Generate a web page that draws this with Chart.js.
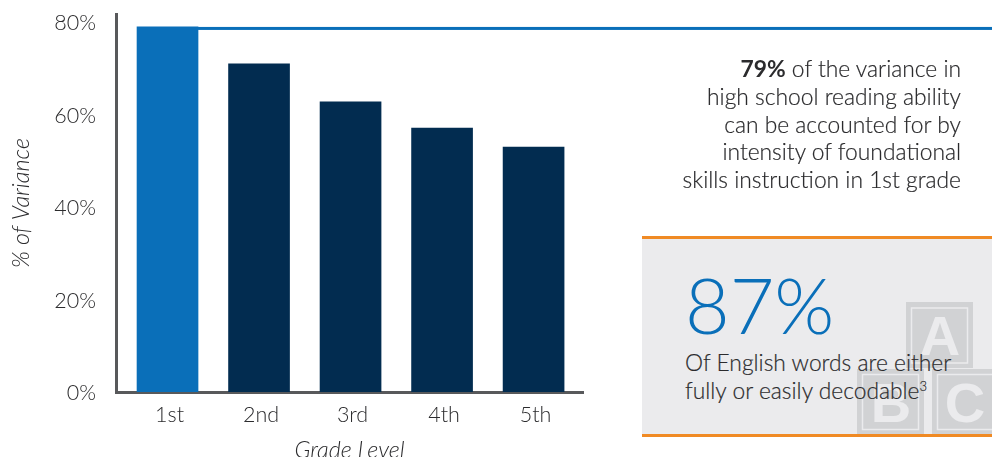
<!DOCTYPE html>
<html>
<head>
<meta charset="utf-8">
<script src="https://cdn.jsdelivr.net/npm/chart.js@4"></script>
<style>
  html, body { margin: 0; padding: 0; background: #fff; width: 992px; height: 457px; overflow: hidden; }
  body { position: relative; font-family: Lato, sans-serif; color: #2b2b2d; }
  #wrap { position: absolute; left: 0; top: 0; width: 992px; height: 457px; }
  #note { position: absolute; right: 31px; top: 55px; text-align: right; font-size: 22.8px; line-height: 27.8px; font-weight: 300; white-space: nowrap; -webkit-text-stroke: 0.2px #2b2b2d; }
  #note b { font-weight: 700; -webkit-text-stroke: 0; }
  #panel { position: absolute; left: 642px; top: 236px; width: 350px; height: 201px; box-sizing: border-box; background: #ebebed;
           border-top: 3px solid #f08a24; border-bottom: 3px solid #f08a24; overflow: hidden; }
  #blocks { position: absolute; left: 0; top: 0; }
  #big { position: absolute; left: 43px; top: 17px; font-size: 77px; line-height: 96px; font-weight: 300; color: #0a6fb9; }
  #sub { position: absolute; left: 43px; top: 110px; font-size: 22.8px; line-height: 27.5px; font-weight: 300; white-space: nowrap; -webkit-text-stroke: 0.2px #2b2b2d; }
  #sub sup { font-size: 13px; line-height: 0; vertical-align: 8px; }
</style>
</head>
<body>
<div id="wrap"><canvas id="chart" width="992" height="457"></canvas></div>
<div id="note"><b>79%</b> of the variance in<br>high school reading ability<br>can be accounted for by<br>intensity of foundational<br>skills instruction in 1st grade</div>
<div id="panel">
  <svg id="blocks" width="350" height="195" font-family="Liberation Sans, Arial, sans-serif" font-weight="700" font-size="56" text-anchor="middle">
    <g>
      <rect x="264" y="63" width="67" height="66" fill="#d1d2d4"/>
      <rect x="269.5" y="69" width="56" height="55" fill="none" stroke="#ebebed" stroke-width="1.5"/>
      <text x="298" y="116" fill="#ebebed">A</text>
      <rect x="215" y="130" width="67" height="65" fill="#d1d2d4"/>
      <rect x="220.5" y="135.5" width="56" height="55" fill="none" stroke="#ebebed" stroke-width="1.5"/>
      <text x="249" y="183" fill="#ebebed">B</text>
      <rect x="290" y="130" width="60" height="65" fill="#d1d2d4"/>
      <rect x="295.5" y="135.5" width="60" height="55" fill="none" stroke="#ebebed" stroke-width="1.5"/>
      <text x="323" y="183" fill="#ebebed">C</text>
    </g>
  </svg>
  <div id="big">87%</div>
  <div id="sub">Of English words are either<br>fully or easily decodable<sup>3</sup></div>
</div>
<script>
// Share of high school reading variance explained by instruction intensity, per grade.
const gradeLabels = ['1st', '2nd', '3rd', '4th', '5th'];
const varianceValues = [79, 71, 62.8, 57.1, 53];
const barColors = ['#0a6fb9', '#022c50', '#022c50', '#022c50', '#022c50'];
const percentTicks = [0, 20, 40, 60, 80];

const inkColor = '#2b2b2d';
const axisColor = '#58595b';
const calloutColor = '#0a6fb9';

// Thin rule running from the top of the first-grade bar across to the page edge.
const calloutRule = {
  id: 'calloutRule',
  afterDatasetsDraw(chart) {
    const y = chart.scales.y.getPixelForValue(varianceValues[0]);
    const x = chart.scales.x.getPixelForValue(0) + 30.5;
    const c = chart.ctx;
    c.save();
    c.fillStyle = calloutColor;
    c.fillRect(x, y, chart.width - x, 3);
    c.restore();
  }
};

new Chart(document.getElementById('chart'), {
  type: 'bar',
  data: {
    datasets: [{
      data: varianceValues.map((v, i) => ({ x: i, y: v })),
      backgroundColor: barColors,
      barThickness: 61,
      borderWidth: 0
    }]
  },
  options: {
    responsive: false,
    animation: false,
    layout: { padding: { top: 14, right: 409 } },
    plugins: { legend: { display: false }, tooltip: { enabled: false } },
    scales: {
      x: {
        type: 'linear',
        position: 'bottom',
        offset: false,
        min: -0.563,
        max: 4.54,
        afterBuildTicks(scale) { scale.ticks = gradeLabels.map((_, i) => ({ value: i })); },
        afterFit(scale) { scale.height = 65; scale.paddingLeft = 0; scale.paddingRight = 0; },
        grid: { display: false, drawTicks: false },
        border: { display: true, color: axisColor, width: 3 },
        ticks: {
          autoSkip: false,
          maxRotation: 0,
          padding: 10,
          labelOffset: 2,
          color: inkColor,
          font: { family: 'Lato', size: 21.5, weight: '300' },
          callback: v => gradeLabels[v]
        },
        title: {
          display: true,
          text: 'Grade Level',
          color: inkColor,
          padding: { top: 8, bottom: -7 },
          font: { family: 'Lato', size: 23.4, style: 'italic', weight: '300' }
        }
      },
      y: {
        min: 0,
        max: 81.8,
        afterBuildTicks(scale) { scale.ticks = percentTicks.map(v => ({ value: v })); },
        afterFit(scale) { scale.width = 116; scale.paddingTop = 0; scale.paddingBottom = 0; },
        grid: { display: false, drawTicks: false },
        border: { display: true, color: axisColor, width: 3 },
        ticks: {
          padding: 20,
          labelOffset: 1,
          color: inkColor,
          font: { family: 'Lato', size: 21.5, weight: '300' },
          callback: v => v + '%'
        },
        title: {
          display: true,
          text: '% of Variance',
          color: inkColor,
          padding: { top: 7, bottom: 0 },
          font: { family: 'Lato', size: 23.4, style: 'italic', weight: '300' }
        }
      }
    }
  },
  plugins: [calloutRule]
});
</script>
</body>
</html>
